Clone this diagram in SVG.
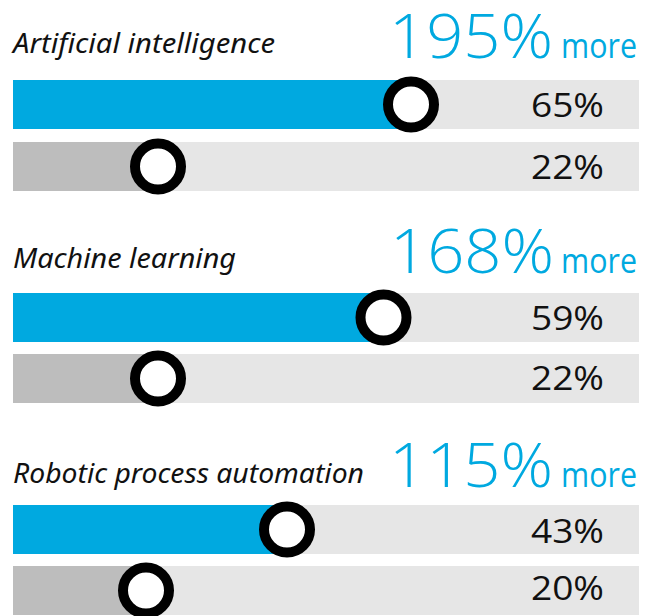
<svg xmlns="http://www.w3.org/2000/svg" width="651" height="616" viewBox="0 0 651 616">
<style>
.bg{fill:#E6E6E6}
.blue{fill:#00A9E0}
.grey{fill:#BDBDBD}
.ring{fill:#fff;stroke:#000;stroke-width:10}
.head{font-family:"Noto Sans","Liberation Sans",sans-serif;font-style:italic;font-size:27px;fill:#111}
.big{font-family:"Open Sans","Liberation Sans",sans-serif;font-weight:300;font-size:60px;fill:#00A9E0}
.more{font-family:"Open Sans","Liberation Sans",sans-serif;font-weight:400;font-size:34px;fill:#00A9E0}
.pct{font-family:"Open Sans","Liberation Sans",sans-serif;font-weight:400;font-size:32px;fill:#111}
</style>
<rect width="651" height="616" fill="#fff"/>

<g id="ai">
<text class="head" x="13" y="53" textLength="262" lengthAdjust="spacingAndGlyphs">Artificial intelligence</text>
<text class="big" x="389" y="58" textLength="164" lengthAdjust="spacingAndGlyphs">195%</text>
<text class="more" x="561" y="58" textLength="76" lengthAdjust="spacingAndGlyphs">more</text>
<rect class="bg" x="13" y="80" width="626" height="49"/>
<rect class="blue" x="13" y="80" width="398" height="49"/>
<circle class="ring" cx="411" cy="104.5" r="23"/>
<text class="pct" x="531" y="117" textLength="73" lengthAdjust="spacingAndGlyphs">65%</text>
<rect class="bg" x="13" y="142" width="626" height="49"/>
<rect class="grey" x="13" y="142" width="145" height="49"/>
<circle class="ring" cx="158" cy="166.5" r="23"/>
<text class="pct" x="531" y="179" textLength="73" lengthAdjust="spacingAndGlyphs">22%</text>
</g>

<g id="ml">
<text class="head" x="13" y="268" textLength="223" lengthAdjust="spacingAndGlyphs">Machine learning</text>
<text class="big" x="390" y="273" textLength="164" lengthAdjust="spacingAndGlyphs">168%</text>
<text class="more" x="561" y="273" textLength="76" lengthAdjust="spacingAndGlyphs">more</text>
<rect class="bg" x="13" y="293" width="626" height="49"/>
<rect class="blue" x="13" y="293" width="370" height="49"/>
<circle class="ring" cx="383.5" cy="317.5" r="23"/>
<text class="pct" x="531" y="330" textLength="73" lengthAdjust="spacingAndGlyphs">59%</text>
<rect class="bg" x="13" y="354" width="626" height="49"/>
<rect class="grey" x="13" y="354" width="145" height="49"/>
<circle class="ring" cx="158" cy="378.5" r="23"/>
<text class="pct" x="531" y="390" textLength="73" lengthAdjust="spacingAndGlyphs">22%</text>
</g>

<g id="rpa">
<text class="head" x="13" y="483" textLength="351" lengthAdjust="spacingAndGlyphs">Robotic process automation</text>
<text class="big" x="389" y="487" textLength="164" lengthAdjust="spacingAndGlyphs">115%</text>
<text class="more" x="561" y="487" textLength="76" lengthAdjust="spacingAndGlyphs">more</text>
<rect class="bg" x="13" y="505" width="626" height="49"/>
<rect class="blue" x="13" y="505" width="274" height="49"/>
<circle class="ring" cx="287" cy="529.5" r="23"/>
<text class="pct" x="531" y="543" textLength="73" lengthAdjust="spacingAndGlyphs">43%</text>
<rect class="bg" x="13" y="566" width="626" height="49"/>
<rect class="grey" x="13" y="566" width="133" height="49"/>
<circle class="ring" cx="146" cy="590.5" r="23"/>
<text class="pct" x="531" y="600" textLength="73" lengthAdjust="spacingAndGlyphs">20%</text>
</g>
<g id="connectors"/>
</svg>
